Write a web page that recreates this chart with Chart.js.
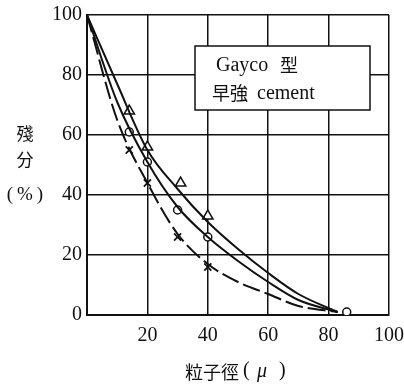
<!DOCTYPE html>
<html>
<head>
<meta charset="utf-8">
<script src="https://cdn.jsdelivr.net/npm/chart.js@4.4.1/dist/chart.umd.min.js"></script>
<style>
html, body { margin: 0; background: #fff; }
#wrap { width: 404px; height: 386px; }
</style>
</head>
<body>
<div id="wrap"><canvas id="chart"></canvas></div>
<script>
// measured points (particle size μ, residue %)
const triX = [14, 20, 31, 40];
const triY = [68, 56, 44, 33];
const circX = [14, 20, 30, 40, 86];
const circY = [61, 51, 35, 26, 1];
const crossX = [14, 20, 30, 40];
const crossY = [55, 44, 26, 16];

// curves
const curveX = [0, 10, 20, 30, 40, 50, 60, 70, 83];
const curveTop = [100, 77, 55, 42, 31, 22, 14, 7, 1];
const curveMid = [100, 71, 51, 36, 26, 18, 11, 5, 1];
const curveLow = [100, 65, 44, 27, 17, 11, 7, 3, 1];

const xTicks = [0, 20, 40, 60, 80, 100];
const yTicks = [0, 20, 40, 60, 80, 100];

const pts = (xs, ys) => xs.map((x, i) => ({x: x, y: ys[i]}));

const serif = '"Liberation Serif", "DejaVu Serif", serif';
const cjk = '"Noto Sans CJK JP", "Noto Sans CJK TC", sans-serif';

// labels drawn on top of the chart area
const notes = {
    id: 'notes',
    afterDraw(chart) {
        const c = chart.ctx;
        c.save();
        // legend box
        c.fillStyle = '#fff';
        c.fillRect(195, 46, 175, 64);
        c.strokeStyle = '#111';
        c.lineWidth = 1.5;
        c.strokeRect(195, 46, 175, 64);
        c.fillStyle = '#111';
        c.textBaseline = 'middle';
        c.textAlign = 'left';
        c.font = '20px ' + serif;
        c.fillText('Gayco', 216, 66);
        c.font = '18px ' + cjk;
        c.fillText('型', 280, 65);
        c.fillText('早強', 212, 93);
        c.font = '20px ' + serif;
        c.fillText('cement', 257, 94);
        // y title
        c.textAlign = 'center';
        c.font = '17px ' + cjk;
        c.fillText('殘', 25, 134);
        c.fillText('分', 25, 160);
        c.font = '19px ' + serif;
        c.fillText('(', 10, 195);
        c.fillText('%', 25, 195);
        c.fillText(')', 40, 195);
        // x title
        c.textAlign = 'left';
        c.font = '18px ' + cjk;
        c.fillText('粒子徑', 185, 372);
        c.font = '20px ' + serif;
        c.fillText('(', 243, 371);
        c.font = 'italic 20px ' + serif;
        c.fillText('μ', 257, 372);
        c.font = '20px ' + serif;
        c.fillText(')', 279, 371);
        c.restore();
    }
};

new Chart(document.getElementById('chart'), {
    type: 'scatter',
    data: {
        datasets: [
            {data: pts(curveX, curveTop), showLine: true, borderColor: '#111', borderWidth: 2, pointRadius: 0, tension: 0.4, cubicInterpolationMode: 'monotone'},
            {data: pts(curveX, curveMid), showLine: true, borderColor: '#111', borderWidth: 2, pointRadius: 0, tension: 0.4, cubicInterpolationMode: 'monotone'},
            {data: pts(curveX, curveLow), showLine: true, borderColor: '#111', borderWidth: 2, borderDash: [18, 5], pointRadius: 0, tension: 0.4, cubicInterpolationMode: 'monotone'},
            {data: pts(triX, triY), pointStyle: 'triangle', pointRadius: 6, borderColor: '#111', borderWidth: 1.5, backgroundColor: '#fff'},
            {data: pts(circX, circY), pointStyle: 'circle', pointRadius: 4, borderColor: '#111', borderWidth: 1.5, backgroundColor: '#fff'},
            {data: pts(crossX, crossY), pointStyle: 'crossRot', pointRadius: 5, borderColor: '#111', borderWidth: 1.8}
        ]
    },
    options: {
        responsive: true,
        maintainAspectRatio: false,
        animation: false,
        layout: {padding: {top: 15, right: 15, left: 0, bottom: 0}},
        plugins: {legend: {display: false}, tooltip: {enabled: false}},
        scales: {
            x: {
                min: 0, max: 100,
                afterBuildTicks: s => { s.ticks = xTicks.map(v => ({value: v})); },
                afterFit: s => { s.height = 71; s.paddingRight = 0; s.paddingLeft = 0; },
                grid: {color: '#111', lineWidth: 1.5, drawTicks: false},
                border: {color: '#111', width: 2},
                ticks: {
                    padding: 9, color: '#111', font: {family: serif, size: 20},
                    callback: v => v === 0 ? '' : v
                }
            },
            y: {
                min: 0, max: 100,
                afterBuildTicks: s => { s.ticks = yTicks.map(v => ({value: v})); },
                afterFit: s => { s.width = 87; s.paddingTop = 0; s.paddingBottom = 0; },
                grid: {color: '#111', lineWidth: 1.5, drawTicks: false},
                border: {color: '#111', width: 2},
                ticks: {padding: 5, color: '#111', font: {family: serif, size: 20}}
            }
        }
    },
    plugins: [notes]
});
</script>
</body>
</html>
